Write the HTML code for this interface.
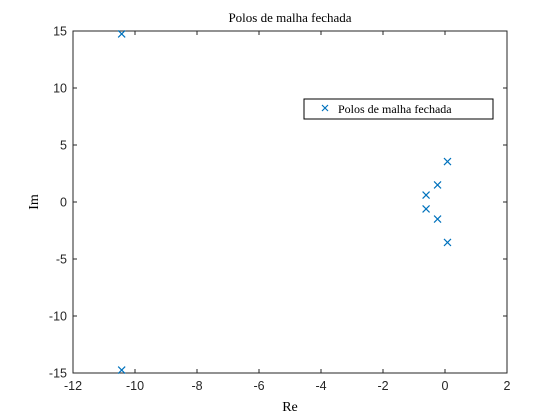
<!DOCTYPE html>
<html><head><meta charset="utf-8"><style>
body{margin:0;background:#fff;}
svg{display:block;font-family:"Liberation Sans",sans-serif;}
.serif{font-family:"Liberation Serif",serif;}
</style></head><body>
<svg id="chart" width="560" height="420" viewBox="0 0 560 420">
<rect width="560" height="420" fill="#fff"/>
<g id="axes"></g>
<g id="marks"></g>
<text class="serif" x="290" y="22" text-anchor="middle" font-size="13" fill="#000">Polos de malha fechada</text>
<text class="serif" x="290" y="411" text-anchor="middle" font-size="14" fill="#000">Re</text>
<text class="serif" x="38" y="202" text-anchor="middle" font-size="14" fill="#000" transform="rotate(-90 38 202)">Im</text>
<g>
<rect x="304" y="99" width="189" height="20" fill="#fff" stroke="#000" stroke-width="1"/>
<path d="M322 105 l6 6 M328 105 l-6 6" stroke="#0072BD" stroke-width="1.2"/>
<text class="serif" x="338" y="113" font-size="12" fill="#000">Polos de malha fechada</text>
</g>
</svg>
<script>
const re=[-10.43,-10.43,0.08,0.08,-0.24,-0.24,-0.61,-0.61];
const im=[14.74,-14.74,3.55,-3.55,1.5,-1.5,0.61,-0.61];
const xTicks=[-12,-10,-8,-6,-4,-2,0,2];
const yTicks=[-15,-10,-5,0,5,10,15];
const L=73,R=507,T=31,B=373;
const sx=v=>L+(v+12)/14*(R-L);
const sy=v=>T+(15-v)/30*(B-T);
const NS="http://www.w3.org/2000/svg";
const ax=document.getElementById('axes'),mk=document.getElementById('marks');
function mkEl(t,a,p){const e=document.createElementNS(NS,t);for(const k in a)e.setAttribute(k,a[k]);p.appendChild(e);return e;}
const fr=mkEl('rect',{x:L,y:T,width:R-L,height:B-T,fill:'none',stroke:'#262626','stroke-width':1},ax);


xTicks.forEach(v=>{const x=sx(v);
 mkEl('path',{d:`M${x} ${B} v-4 M${x} ${T} v4`,stroke:'#262626'},ax);
 const t=mkEl('text',{x:x,y:B+17,'text-anchor':'middle','font-size':12.5,fill:'#262626'},ax);t.textContent=v;
 
 });
yTicks.forEach(v=>{const y=sy(v);
 mkEl('path',{d:`M${L} ${y} h4 M${R} ${y} h-4`,stroke:'#262626'},ax);
 const t=mkEl('text',{x:L-6,y:y+4.5,'text-anchor':'end','font-size':12.5,fill:'#262626'},ax);t.textContent=v;
 
 });
re.forEach((r,i)=>{const x=sx(r),y=sy(im[i]);
 const p=mkEl('path',{d:`M${x-3.5} ${y-3.5} l7 7 M${x+3.5} ${y-3.5} l-7 7`,stroke:'#0072BD','stroke-width':1.2},mk);
 
 });
</script>
</body></html>
